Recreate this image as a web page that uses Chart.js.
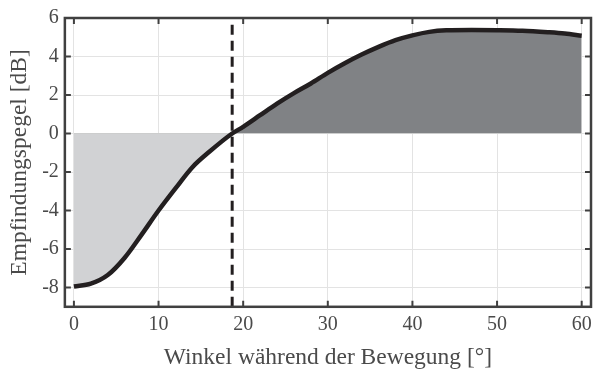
<!DOCTYPE html>
<html>
<head>
<meta charset="utf-8">
<script src="https://cdn.jsdelivr.net/npm/chart.js@4"></script>
<style>
  html, body { margin: 0; padding: 0; background: #fff; }
  #wrap { width: 595px; height: 372px; }
</style>
</head>
<body>
<div id="wrap"><canvas id="chart"></canvas></div>
<script>
const winkel = [0, 2, 4, 6, 8, 10, 12, 14, 16, 18.7, 20, 22, 24, 26, 28, 30, 32, 34, 36, 38, 40, 42, 44, 47, 50, 53, 56, 58, 60];
const pegel = [-7.95, -7.8, -7.35, -6.45, -5.25, -4.0, -2.85, -1.75, -0.95, 0, 0.35, 0.95, 1.55, 2.1, 2.6, 3.15, 3.65, 4.1, 4.5, 4.85, 5.1, 5.28, 5.36, 5.38, 5.37, 5.34, 5.26, 5.19, 5.08];

// gestrichelte Linie
const grenzWinkel = 18.7;
const grenzPegel = [-9, 5.7];

const xTicks = [0, 10, 20, 30, 40, 50, 60];
const yTicks = [-8, -6, -4, -2, 0, 2, 4, 6];

const curvePoints = winkel.map((w, i) => ({ x: w, y: pegel[i] }));
const dashPoints = grenzPegel.map(p => ({ x: grenzWinkel, y: p }));

const textColor = '#4a4a4a';
const fontFamily = '"Liberation Serif", "DejaVu Serif", serif';

// Rahmen und Ticks nach innen (wie MATLAB box on)
const boxPlugin = {
    id: 'box',
    afterDatasetsDraw(chart) {
        const { ctx, chartArea, scales } = chart;
        const len = 6;
        ctx.save();
        ctx.strokeStyle = '#404040';
        ctx.lineWidth = 2;
        ctx.beginPath();
        xTicks.forEach(t => {
            const px = scales.x.getPixelForValue(t);
            ctx.moveTo(px, chartArea.bottom); ctx.lineTo(px, chartArea.bottom - len);
            ctx.moveTo(px, chartArea.top); ctx.lineTo(px, chartArea.top + len);
        });
        yTicks.forEach(t => {
            const py = scales.y.getPixelForValue(t);
            ctx.moveTo(chartArea.left, py); ctx.lineTo(chartArea.left + len, py);
            ctx.moveTo(chartArea.right, py); ctx.lineTo(chartArea.right - len, py);
        });
        ctx.stroke();
        ctx.lineWidth = 2.5;
        ctx.strokeRect(chartArea.left, chartArea.top, chartArea.right - chartArea.left, chartArea.bottom - chartArea.top);
        ctx.restore();
    }
};

new Chart(document.getElementById('chart'), {
    type: 'line',
    data: {
        datasets: [{
            data: curvePoints,
            borderColor: '#231f20',
            borderWidth: 4.5,
            pointRadius: 0,
            cubicInterpolationMode: 'monotone',
            fill: {
                target: { value: 0 },
                above: '#808285',
                below: '#d1d2d4'
            },
            order: 1
        }, {
            data: dashPoints,
            borderColor: '#231f20',
            borderWidth: 3,
            borderDash: [10, 6],
            pointRadius: 0,
            fill: false,
            order: 0
        }]
    },
    options: {
        responsive: true,
        maintainAspectRatio: false,
        animation: false,
        layout: { padding: { top: 17, right: 4, left: 6, bottom: 0 } },
        plugins: {
            legend: { display: false },
            tooltip: { enabled: false }
        },
        scales: {
            x: {
                type: 'linear',
                min: -1.07,
                max: 61.1,
                afterBuildTicks: axis => { axis.ticks = xTicks.map(v => ({ value: v })); },
                afterFit: axis => { axis.paddingLeft = 0; axis.paddingRight = 0; },
                grid: { color: '#e3e3e3', lineWidth: 1, drawTicks: false },
                border: { display: false },
                ticks: { color: textColor, font: { family: fontFamily, size: 20 }, padding: 6, maxRotation: 0 },
                title: {
                    display: true,
                    text: 'Winkel während der Bewegung [°]',
                    color: textColor,
                    font: { family: fontFamily, size: 23.5 },
                    padding: { top: 1, bottom: 0 }
                }
            },
            y: {
                type: 'linear',
                min: -9,
                max: 6,
                afterBuildTicks: axis => { axis.ticks = yTicks.map(v => ({ value: v })); },
                grid: { color: '#e3e3e3', lineWidth: 1, drawTicks: false },
                border: { display: false },
                ticks: {
                    color: textColor,
                    font: { family: fontFamily, size: 20 },
                    padding: 6,
                    callback: v => String(v)
                },
                title: {
                    display: true,
                    text: 'Empfindungspegel [dB]',
                    color: textColor,
                    font: { family: fontFamily, size: 23.5 },
                    padding: { top: 0, bottom: 2 }
                }
            }
        }
    },
    plugins: [boxPlugin]
});
</script>
</body>
</html>
